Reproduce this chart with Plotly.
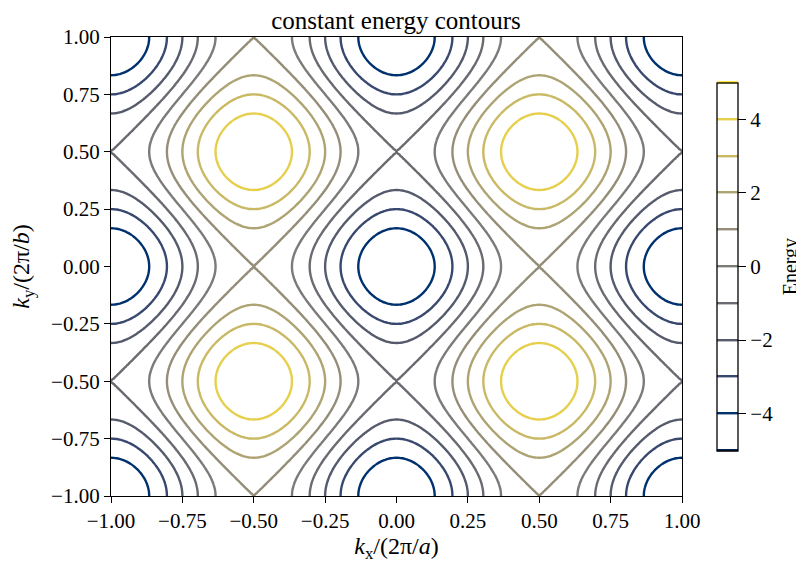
import numpy as np
import plotly.graph_objects as go

# Brillouin-zone grid (in units of 2*pi/a and 2*pi/b)
kx = np.linspace(-1.0, 1.0, 201)
ky = np.linspace(-1.0, 1.0, 201)
# anisotropic nearest-neighbour hoppings
tx = 1.5
ty = 1.0
levels_start, levels_end, levels_step = -5, 5, 1
cb_ticks = [-4, -2, 0, 2, 4]
axis_ticks = [-1.0, -0.75, -0.5, -0.25, 0.0, 0.25, 0.5, 0.75, 1.0]

KX, KY = np.meshgrid(kx, ky)
energy = -2 * tx * np.cos(2 * np.pi * KX) - 2 * ty * np.cos(2 * np.pi * KY)

# matplotlib-like cividis
cividis = [
    [0.0, "rgb(0,34,78)"], [0.1, "rgb(0,49,111)"], [0.2, "rgb(56,72,110)"],
    [0.3, "rgb(85,90,108)"], [0.4, "rgb(106,107,113)"], [0.5, "rgb(124,123,120)"],
    [0.6, "rgb(148,142,120)"], [0.7, "rgb(174,163,114)"], [0.8, "rgb(202,185,100)"],
    [0.9, "rgb(231,207,78)"], [1.0, "rgb(254,232,56)"],
]

font = "Liberation Serif"

# the page body adds an 8px offset; the figure is sized to fit the window without scrollbars
fig = go.Figure(go.Contour(
    x=kx, y=ky, z=energy,
    colorscale=cividis, zmin=-5, zmax=5,
    contours=dict(coloring="lines", start=levels_start, end=levels_end, size=levels_step),
    line=dict(width=2.4),
    colorbar=dict(
        x=(717 - 110) / 572, xanchor="left", xpad=0, y=0.5, yanchor="middle", ypad=0,
        len=370 / 462, lenmode="fraction", thickness=21,
        outlinecolor="black", outlinewidth=1.3,
        tickvals=cb_ticks, ticks="outside", ticklen=8, tickcolor="black",
        tickfont=dict(family=font, size=21, color="black"),
    ),
))

axis_common = dict(
    range=[-1, 1], tickvals=axis_ticks, tickformat=".2f",
    ticks="outside", ticklen=6, tickcolor="black", tickwidth=1.2,
    showline=True, linecolor="black", linewidth=1.3, mirror=True,
    showgrid=False, zeroline=False,
    tickfont=dict(family=font, size=21, color="black"),
)

fig.update_layout(
    width=796, height=558,
    margin=dict(l=102, r=122, t=29, b=67),
    plot_bgcolor="white", paper_bgcolor="white",
    title=dict(text="constant energy contours", x=388 / 796, xanchor="center",
               y=1 - 12 / 558, yanchor="middle", font=dict(family=font, size=25, color="black")),
    xaxis=dict(axis_common, title=dict(text="<i>k</i><sub>x</sub>/(2π/<i>a</i>)", standoff=4,
                                       font=dict(family=font, size=24, color="black"))),
    yaxis=dict(axis_common, title=dict(text="<i>k</i><sub>y</sub>/(2π/<i>b</i>)", standoff=14,
                                       font=dict(family=font, size=24, color="black"))),
    annotations=[dict(text="Energy", textangle=-90, xref="paper", yref="paper",
                      x=(783 - 102) / 572, y=0.5, xanchor="center", yanchor="middle",
                      showarrow=False, font=dict(family=font, size=20, color="black"))],
)

fig.write_html("out.html")
